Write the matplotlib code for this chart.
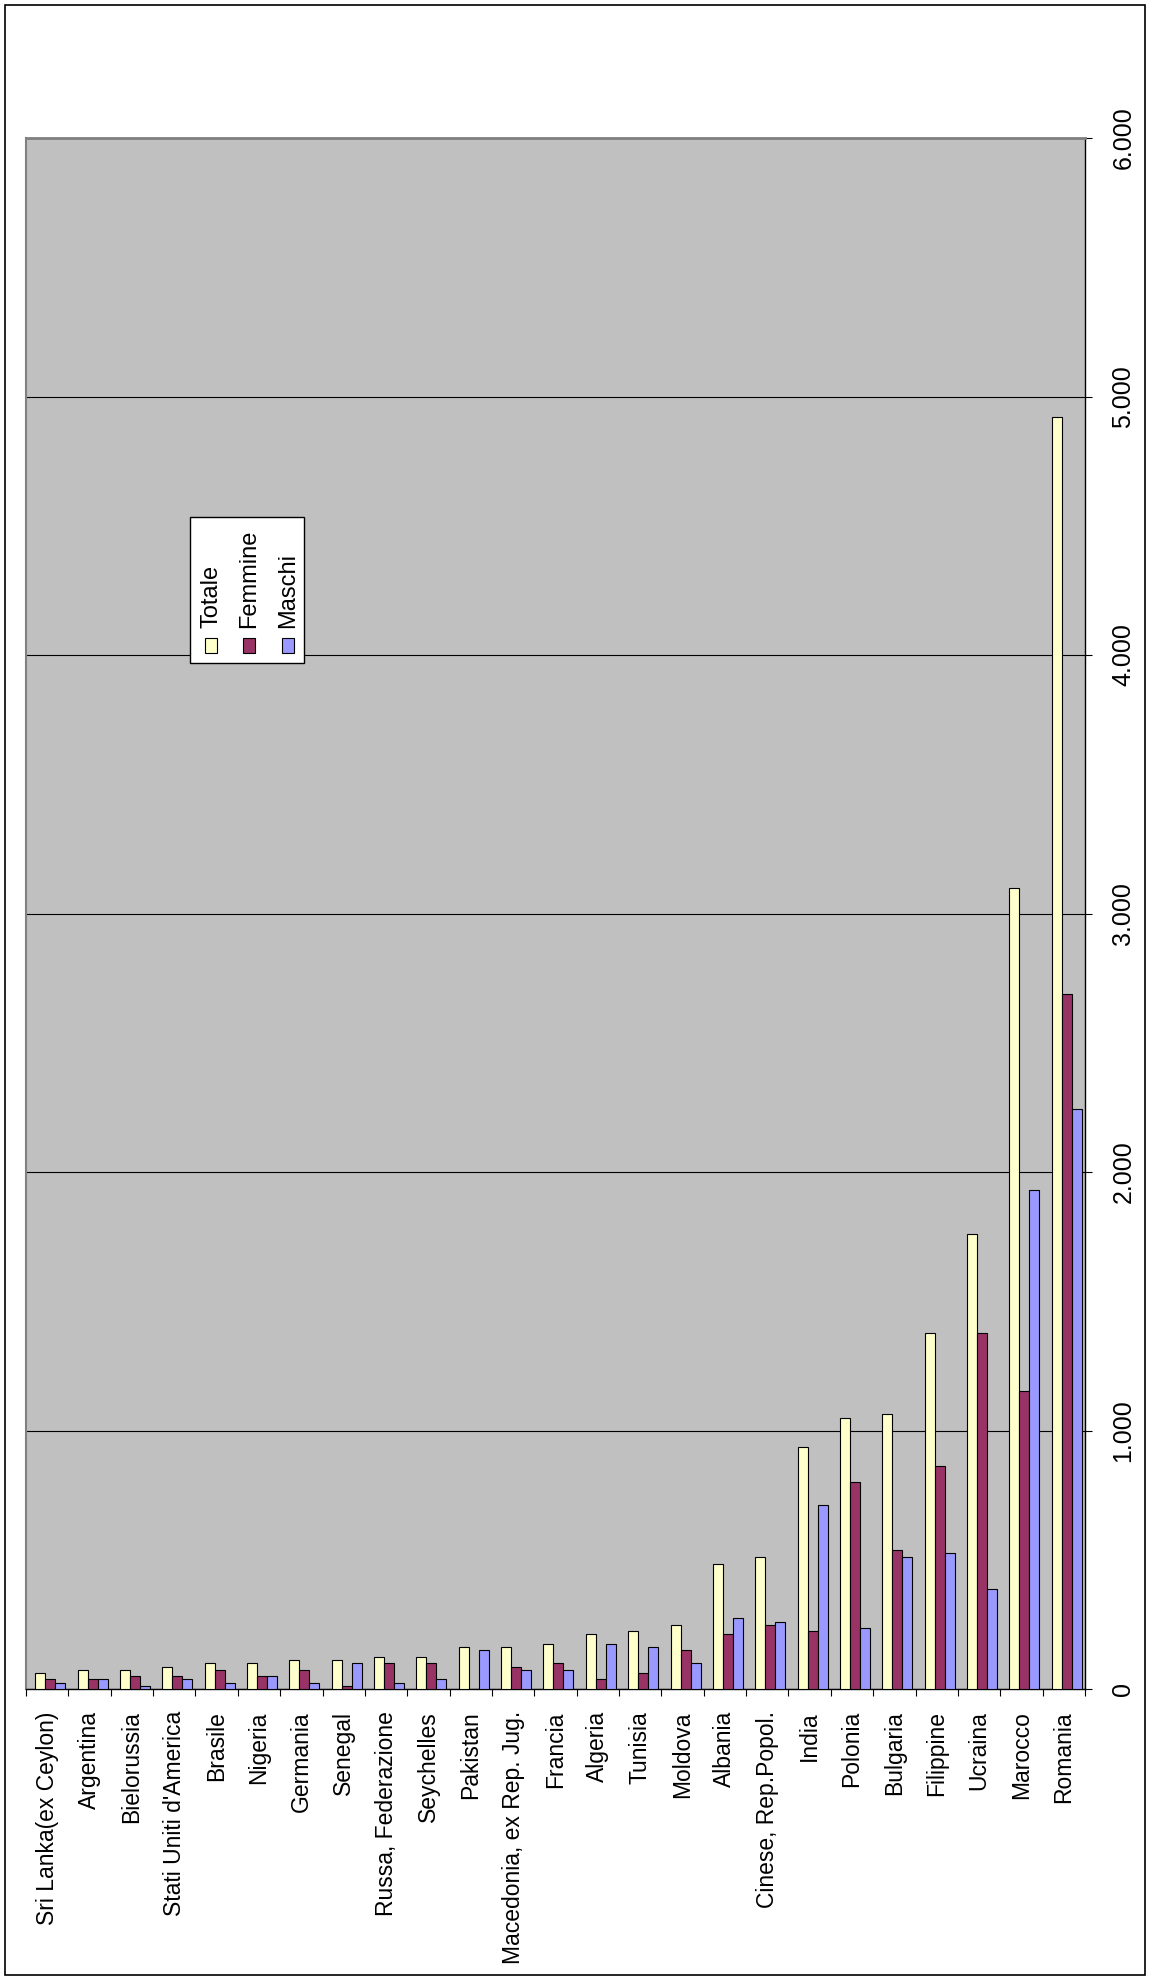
import numpy as np
import matplotlib
matplotlib.use('Agg')
import matplotlib.pyplot as plt
from matplotlib.patches import Rectangle
from matplotlib.ticker import FuncFormatter

plt.rcParams['font.family'] = ['Liberation Sans', 'DejaVu Sans']

# ── dati ─────────────────────────────────────────────────────────────────────
paesi = ['Sri Lanka(ex Ceylon)', 'Argentina', 'Bielorussia', "Stati Uniti d'America",
         'Brasile', 'Nigeria', 'Germania', 'Senegal', 'Russa, Federazione',
         'Seychelles', 'Pakistan', 'Macedonia, ex Rep. Jug.', 'Francia', 'Algeria',
         'Tunisia', 'Moldova', 'Albania', 'Cinese, Rep.Popol.', 'India', 'Polonia',
         'Bulgaria', 'Filippine', 'Ucraina', 'Marocco', 'Romania']
totale  = [62, 74, 74, 87, 99, 99, 112, 112, 124, 124, 161, 161, 173, 211, 224,
           248, 483, 512, 937, 1049, 1062, 1376, 1760, 3097, 4922]
femmine = [39, 39, 49, 49, 74, 49, 74, 12, 99, 99, 0, 87, 99, 37, 62,
           149, 211, 248, 225, 799, 538, 862, 1376, 1151, 2690]
maschi  = [25, 39, 13, 37, 25, 49, 25, 99, 25, 37, 149, 74, 74, 173, 161,
           99, 273, 261, 712, 237, 512, 525, 387, 1930, 2244]
serie   = ['Totale', 'Femmine', 'Maschi']
colori  = ['#FFFFCC', '#993366', '#9999FF']

W, H = 1150, 1980
def fx(px): return px / W
def fy(py): return 1 - py / H

fig = plt.figure(figsize=(W / 100, H / 100), dpi=100)

# cornice esterna
fig.add_artist(Rectangle((fx(5), fy(1975)), fx(1145) - fx(5), fy(5) - fy(1975),
                         transform=fig.transFigure, fill=False, ec='black', lw=1.2))

ax = fig.add_axes([fx(26), fy(1689), fx(1085) - fx(26), fy(138) - fy(1689)])
ax.set_facecolor('#C0C0C0')

x = np.arange(len(paesi))
w = 0.236
for k, (vals, c, nome) in enumerate(zip([totale, femmine, maschi], colori, serie)):
    ax.bar(x + 0.07 + (k - 1) * w, vals, w, color=c, edgecolor='black', lw=0.8,
           label=nome, zorder=3)

ax.set_xlim(-0.5, len(paesi) - 0.5)
ax.set_ylim(0, 6000)
ax.set_yticks(range(0, 6001, 1000))
ax.yaxis.set_major_formatter(FuncFormatter(lambda v, p: f'{int(v):,}'.replace(',', '.')))
ax.yaxis.tick_right()
ax.tick_params(axis='y', direction='out', length=5, width=0.8, labelsize=18,
               pad=14, labelrotation=90)
for t in ax.get_yticklabels():
    t.set_va('center')

ax.set_xticks(np.arange(-0.5, len(paesi), 1))
ax.set_xticklabels([])
ax.set_xticks(x, minor=True)
ax.set_xticklabels(paesi, minor=True, rotation=90, fontsize=16.5)
ax.tick_params(axis='x', which='major', direction='out', length=5, width=0.8)
ax.tick_params(axis='x', which='minor', length=0, pad=16)

ax.yaxis.grid(True, color='black', lw=0.8)
ax.set_axisbelow(True)

ax.spines['top'].set_color('#808080'); ax.spines['top'].set_linewidth(2)
ax.spines['left'].set_color('#808080'); ax.spines['left'].set_linewidth(1.5)
ax.spines['bottom'].set_color('black'); ax.spines['bottom'].set_linewidth(1)
ax.spines['right'].set_color('black'); ax.spines['right'].set_linewidth(1)

# ── legenda (ruotata, disegnata a mano) ──────────────────────────────────────
fig.add_artist(Rectangle((fx(190), fy(663)), fx(304) - fx(190), fy(517) - fy(663),
                         transform=fig.transFigure, fc='white', ec='black', lw=1.0,
                         zorder=10))
leg_x = [211, 249, 288]
for nome, c, lx in zip(serie, colori, leg_x):
    fig.add_artist(Rectangle((fx(lx - 6), fy(653)), fx(12), 15 / H,
                             transform=fig.transFigure, fc=c, ec='black', lw=0.8,
                             zorder=11))
    fig.text(fx(lx), fy(628), nome, rotation=90, ha='center', va='bottom',
             fontsize=17, zorder=11)

plt.savefig('out.png', dpi=100)
plt.close()
